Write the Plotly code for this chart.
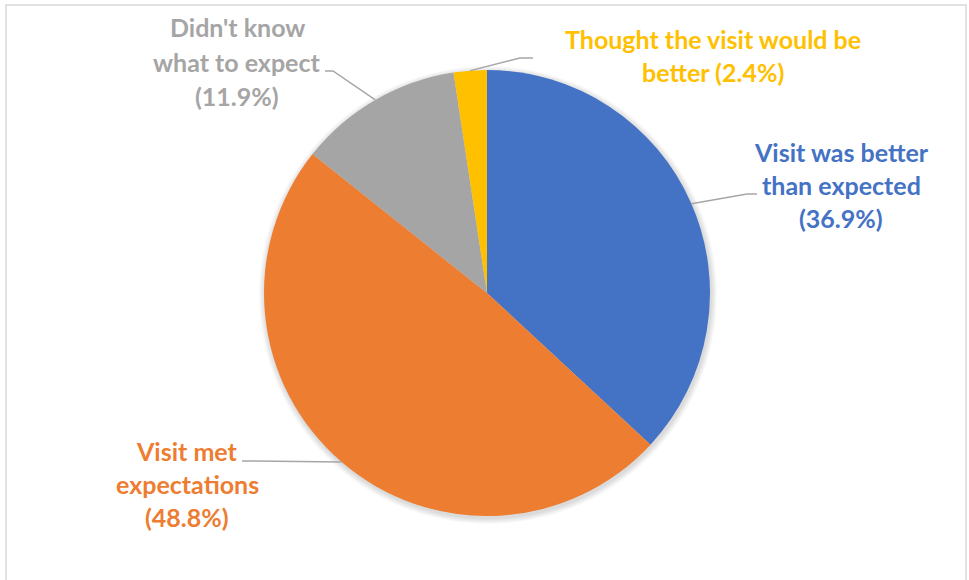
import math
import plotly.graph_objects as go

W, H = 969, 580

# Survey answers, clockwise from 12 o'clock
categories = [
    "Visit was better than expected",
    "Visit met expectations",
    "Didn't know what to expect",
    "Thought the visit would be better",
]
shares = [36.9, 48.8, 11.9, 2.4]
slice_colors = ["#4472C4", "#ED7D31", "#A5A5A5", "#FFC000"]
label_lines = [
    ["Visit was better", "than expected", "({}%)"],
    ["Visit met", "expectations", "({}%)"],
    ["Didn't know", "what to expect", "({}%)"],
    ["Thought the visit would be", "better ({}%)"],
]

# Geometry (pixels)
CX, CY, R = 487, 293, 223
label_centers = [(841, 152), (187, 451), (237, 27), (713, 39)]
line_step = [33, 33, 34.5, 33]
leader_elbows = [(747, 194), (250, 461), (333, 71), (520, 58)]
leader_ends = [(757, 194), (242, 461), (325, 71), (533, 58)]


def px(x):
    return x / W


def py(y):
    return 1 - y / H


fig = go.Figure()
fig.add_trace(go.Pie(
    labels=categories,
    values=shares,
    sort=False,
    direction="clockwise",
    rotation=0,
    marker=dict(colors=slice_colors, line=dict(width=0)),
    textinfo="none",
    hoverinfo="label+percent",
    showlegend=False,
    domain=dict(x=[px(CX - R), px(CX + R)], y=[py(CY + R), py(CY - R)]),
))

shapes = []
# soft drop shadow behind the pie
for k in range(1, 7):
    rr = R + k
    shapes.append(dict(
        type="circle", xref="paper", yref="paper", layer="below",
        x0=px(CX + 1 - rr), x1=px(CX + 1 + rr),
        y0=py(CY + 2 + rr), y1=py(CY + 2 - rr),
        line=dict(width=0), fillcolor="rgba(0,0,0,0.025)",
    ))

# chart border
shapes.append(dict(
    type="rect", xref="paper", yref="paper",
    x0=px(6), x1=px(966), y0=py(590), y1=py(5),
    line=dict(color="#D9D9D9", width=1.5), fillcolor="rgba(0,0,0,0)",
))

# leader lines from each slice's mid-angle on the rim
total = sum(shares)
cum = 0.0
for i, v in enumerate(shares):
    mid = (cum + v / 2) / total * 2 * math.pi
    cum += v
    sx = CX + R * math.sin(mid)
    sy = CY - R * math.cos(mid)
    ex, ey = leader_elbows[i]
    tx, ty = leader_ends[i]
    shapes.append(dict(
        type="path", xref="paper", yref="paper",
        path=f"M {px(sx)} {py(sy)} L {px(ex)} {py(ey)} L {px(tx)} {py(ty)}",
        line=dict(color="#A6A6A6", width=1.5),
    ))

annotations = []
for i, lines in enumerate(label_lines):
    lx, ly = label_centers[i]
    for j, t in enumerate(lines):
        annotations.append(dict(
            xref="paper", yref="paper",
            x=px(lx), y=py(ly + j * line_step[i]),
            xanchor="center", yanchor="middle",
            text=t.format(shares[i]),
            showarrow=False,
            font=dict(family="Lato", size=25, weight="bold", color=slice_colors[i]),
        ))

fig.update_layout(
    width=W, height=H,
    margin=dict(l=0, r=0, t=0, b=0),
    paper_bgcolor="white",
    plot_bgcolor="white",
    shapes=shapes,
    annotations=annotations,
)

fig.write_html("out.html")
